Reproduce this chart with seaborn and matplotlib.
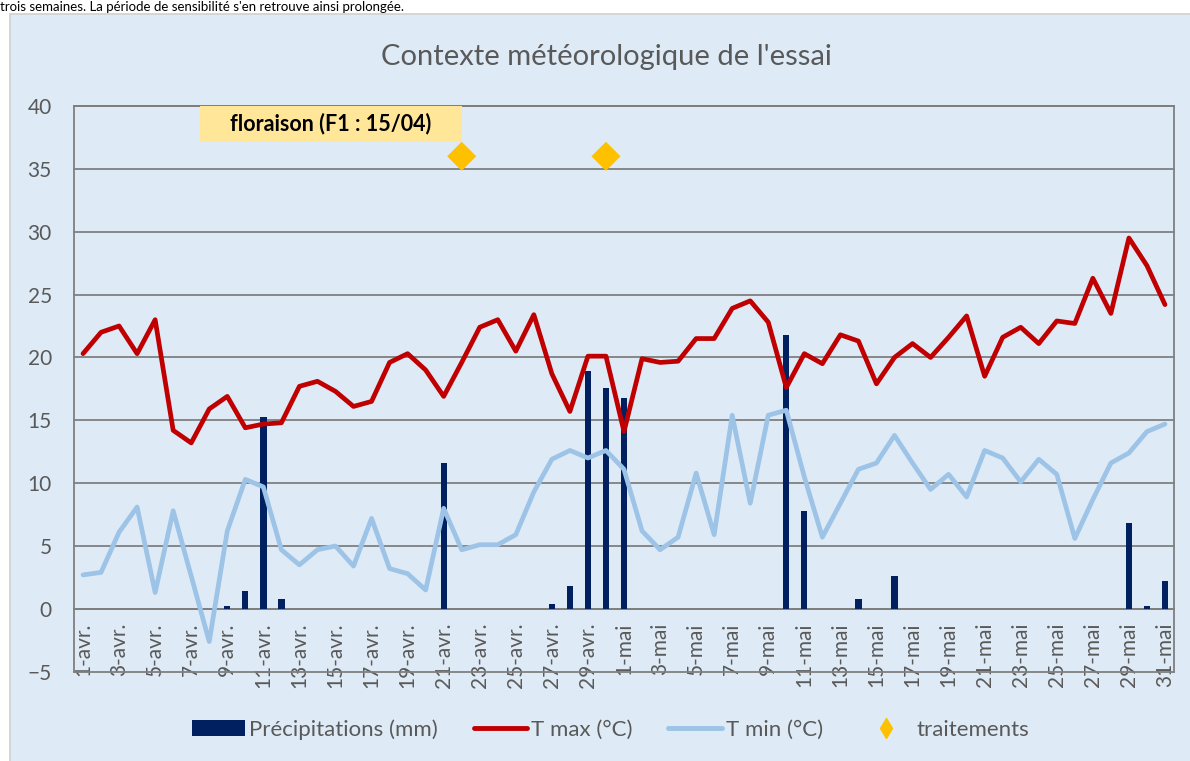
import numpy as np
import pandas as pd
import seaborn as sns
import matplotlib.pyplot as plt
from matplotlib.patches import Rectangle, Patch
from matplotlib.lines import Line2D

# day labels, 1 avril -> 31 mai
jours = [f"{d}-avr." for d in range(1, 31)] + [f"{d}-mai" for d in range(1, 32)]

t_max = [20.3, 22.0, 22.5, 20.3, 23.0, 14.2, 13.2, 15.9, 16.9, 14.4,
         14.7, 14.8, 17.7, 18.1, 17.3, 16.1, 16.5, 19.6, 20.3, 19.0,
         16.9, 19.6, 22.4, 23.0, 20.5, 23.4, 18.7, 15.7, 20.1, 20.1,
         14.1, 19.9, 19.6, 19.7, 21.5, 21.5, 23.9, 24.5, 22.8, 17.6,
         20.3, 19.5, 21.8, 21.3, 17.9, 20.0, 21.1, 20.0, 21.6, 23.3,
         18.5, 21.6, 22.4, 21.1, 22.9, 22.7, 26.3, 23.5, 29.5, 27.3,
         24.2]

t_min = [2.7, 2.9, 6.1, 8.1, 1.3, 7.8, 2.6, -2.6, 6.2, 10.3,
         9.7, 4.7, 3.5, 4.7, 5.0, 3.4, 7.2, 3.2, 2.8, 1.5,
         8.0, 4.7, 5.1, 5.1, 5.9, 9.3, 11.9, 12.6, 12.0, 12.6,
         11.1, 6.2, 4.7, 5.7, 10.8, 5.9, 15.4, 8.4, 15.4, 15.8,
         10.5, 5.7, 8.4, 11.1, 11.6, 13.8, 11.6, 9.5, 10.7, 8.9,
         12.6, 12.0, 10.1, 11.9, 10.7, 5.6, 8.7, 11.6, 12.4, 14.1,
         14.7]

precip = [0, 0, 0, 0, 0, 0, 0, 0, 0.2, 1.4,
          15.3, 0.8, 0, 0, 0, 0, 0, 0, 0, 0,
          11.6, 0, 0, 0, 0, 0, 0.4, 1.8, 18.9, 17.6,
          16.8, 0, 0, 0, 0, 0, 0, 0, 0, 21.8,
          7.8, 0, 0, 0.8, 0, 2.6, 0, 0, 0, 0,
          0, 0, 0, 0, 0, 0, 0, 0, 6.8, 0.2,
          2.2]

traitements_jours = ["22-avr.", "30-avr."]
traitements_y = [36, 36]

df = pd.DataFrame({"jour": jours, "pos": np.arange(len(jours)),
                   "tmax": t_max, "tmin": t_min, "pluie": precip})

bg = "#DEEBF7"
grey = "#7F7F7F"
txt = "#595959"

sns.set_style("white")
plt.rcParams["font.family"] = ["Lato", "DejaVu Sans"]

fig = plt.figure(figsize=(11.9, 7.61), dpi=100)
fig.patches.append(Rectangle((0.0084, -0.01), 1.0, 0.9916, transform=fig.transFigure,
                             facecolor=bg, edgecolor="#D0D0D0", lw=1.2, zorder=-5))
fig.text(0.0, 0.999, "trois semaines. La période de sensibilité s'en retrouve ainsi prolongée.",
         fontsize=9.5, color="black", va="top", ha="left")

ax = fig.add_axes([74 / 1190, 1 - 671.7 / 761, 1100 / 1190, (671.7 - 106) / 761])
ax.set_facecolor(bg)

sns.barplot(data=df, x="jour", y="pluie", color="#002060", width=0.35,
            saturation=1, linewidth=0, ax=ax, zorder=3)
sns.lineplot(data=df, x="pos", y="tmax", color="#C00000", lw=3.4, ax=ax, zorder=4)
sns.lineplot(data=df, x="pos", y="tmin", color="#9DC3E6", lw=3.4, ax=ax, zorder=4)
tr_pos = [jours.index(j) for j in traitements_jours]
sns.scatterplot(x=tr_pos, y=traitements_y, marker="D", color="#FFC000", s=220,
                edgecolor="none", ax=ax, zorder=5)

ax.set_xlim(-0.5, len(jours) - 0.5)
ax.set_ylim(-5, 40)
ax.set_yticks(range(-5, 41, 5))
for v in range(-5, 41, 5):
    ax.axhline(v, color=grey, lw=1.3, zorder=1, clip_on=False)

ax.spines["bottom"].set_position(("data", 0))
for s in ax.spines.values():
    s.set_color(grey)
    s.set_linewidth(1.3)
ax.set_xticks(range(0, len(jours), 2))
ax.set_xticklabels(jours[::2], rotation=90, ha="center", va="top")
ax.set_xticks(np.arange(-0.5, len(jours), 2), minor=True)
ax.tick_params(axis="x", which="major", length=0, pad=10, labelsize=15, labelcolor=txt)
ax.tick_params(axis="x", which="minor", length=5, width=1.3, color=grey, direction="out")
ax.tick_params(axis="y", length=5, width=1.3, color=grey, pad=11, labelsize=15, labelcolor=txt)
ax.set_xlabel("")
ax.set_ylabel("")

# floraison box
ax.add_patch(Rectangle((6.5, 37.15), 14.5, 2.85, facecolor="#FFE699", edgecolor="none",
                       zorder=6, clip_on=False))
ax.text(13.75, 38.6, "floraison (F1 : 15/04)", ha="center", va="center",
        fontsize=15.5, fontweight="bold", color="black", zorder=7)

fig.text(0.51, 0.925, "Contexte météorologique de l'essai", ha="center", va="center",
         fontsize=21, color=txt)

handles = [Patch(facecolor="#002060", edgecolor="none"),
           Line2D([], [], color="#C00000", lw=3.5),
           Line2D([], [], color="#9DC3E6", lw=3.5),
           Line2D([], [], color="#FFC000", marker="d", ls="none", markersize=10)]
labels = ["Précipitations (mm)", "T max (°C)", "T min (°C)", "traitements"]
leg = fig.legend(handles, labels, loc="center", bbox_to_anchor=(0.513, 0.041), ncol=4,
                 frameon=False, fontsize=16, handlelength=2.4, handleheight=0.75,
                 handletextpad=0.2, columnspacing=1.6)
for t in leg.get_texts():
    t.set_color(txt)

fig.savefig("out.png", dpi=100)
